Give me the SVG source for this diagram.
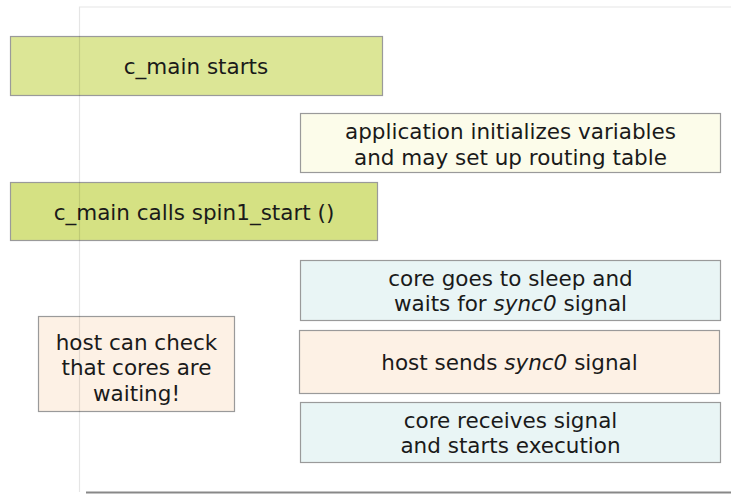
<svg xmlns="http://www.w3.org/2000/svg" width="731" height="494" viewBox="0 0 731 494">
  <style>
    .box { stroke: #9a9a9a; stroke-width: 1.2; }
    .green1 { fill: #dce696; }
    .green2 { fill: #d5e183; }
    .cream { fill: #fcfcea; }
    .blue { fill: #e9f5f5; }
    .peach { fill: #fdf1e5; }
    text { font-family: "DejaVu Sans", "Liberation Sans", sans-serif; font-size: 21.5px; fill: #1a1a1a; text-anchor: middle; }
    .it { font-style: italic; }
    .frame { stroke: #000; stroke-opacity: 0.1; stroke-width: 1.2; fill: none; }
  </style>

  <!-- timeline steps -->
  <g id="c-main-starts">
    <rect class="box green1" x="10.5" y="36.5" width="372" height="59"/>
    <text x="196" y="74">c_main starts</text>
  </g>

  <g id="app-init">
    <rect class="box cream" x="300.5" y="113.5" width="420" height="59"/>
    <text x="510.5" y="138.5">application initializes variables</text>
    <text x="510.5" y="164.5">and may set up routing table</text>
  </g>

  <g id="spin1-start">
    <rect class="box green2" x="10.5" y="182.5" width="367" height="58"/>
    <text x="194" y="219.5">c_main calls spin1_start ()</text>
  </g>

  <g id="core-sleep">
    <rect class="box blue" x="300.5" y="260.5" width="420" height="60"/>
    <text x="510.5" y="285.5">core goes to sleep and</text>
    <text x="510.5" y="311"><tspan>waits for </tspan><tspan class="it">sync0</tspan><tspan> signal</tspan></text>
  </g>

  <g id="host-check">
    <rect class="box peach" x="38.5" y="316.5" width="196" height="95"/>
    <text x="136.5" y="349.5">host can check</text>
    <text x="136.5" y="375">that cores are</text>
    <text x="136.5" y="400.5">waiting!</text>
  </g>

  <g id="host-sends">
    <rect class="box peach" x="299.5" y="330.5" width="420" height="63"/>
    <text x="509.5" y="370"><tspan>host sends </tspan><tspan class="it">sync0</tspan><tspan> signal</tspan></text>
  </g>

  <g id="core-receives">
    <rect class="box blue" x="300.5" y="402.5" width="420" height="60"/>
    <text x="510.5" y="427.5">core receives signal</text>
    <text x="510.5" y="453">and starts execution</text>
  </g>

  <!-- page frame -->
  <g id="frame">
    <path class="frame" d="M79.5 492 V7 H731"/>
    <path d="M86 492.5 H731" stroke="#888" stroke-width="2"/>
  </g>
</svg>
